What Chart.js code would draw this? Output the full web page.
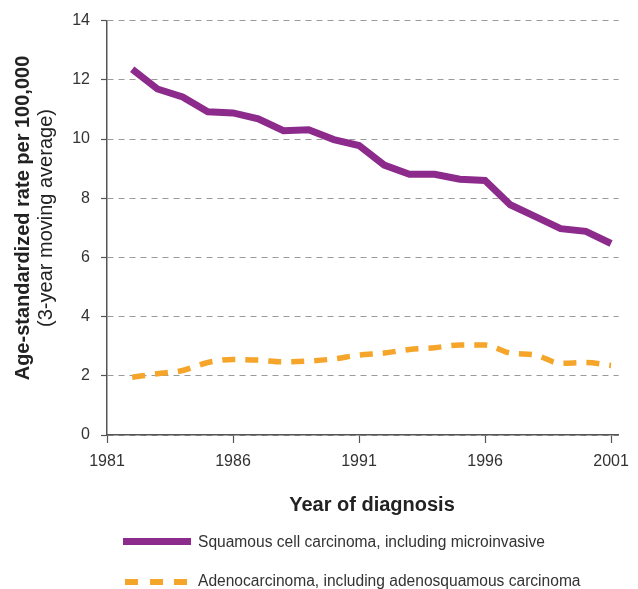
<!DOCTYPE html>
<html>
<head>
<meta charset="utf-8">
<script src="https://cdn.jsdelivr.net/npm/chart.js@4/dist/chart.umd.min.js"></script>
<style>
  html, body { margin: 0; padding: 0; background: #fff; }
  #wrap { position: relative; width: 638px; height: 589px; overflow: hidden; }
  #c { position: absolute; left: 0; top: 0; }
  .ov { position: absolute; white-space: nowrap; color: #222; }
  .rot { transform: translate(-50%, -50%) rotate(-90deg); }
</style>
</head>
<body>
<div id="wrap">
  <canvas id="c" width="638" height="589"></canvas>
  <div class="ov rot" style="left:22px; top:218px; font: bold 20px 'Liberation Sans', Arial, sans-serif;">Age-standardized rate per 100,000</div>
  <div class="ov rot" style="left:45px; top:218px; font: 20px 'Liberation Sans', Arial, sans-serif;">(3-year moving average)</div>
  <div class="ov" style="left:372px; top:504px; transform: translate(-50%, -50%); font: bold 20px 'Liberation Sans', Arial, sans-serif;">Year of diagnosis</div>
  <div id="legend"></div>
</div>
<script>
const years = [1982, 1983, 1984, 1985, 1986, 1987, 1988, 1989, 1990, 1991, 1992, 1993, 1994, 1995, 1996, 1997, 1998, 1999, 2000, 2001];
const squamous = [12.36, 11.69, 11.42, 10.92, 10.88, 10.68, 10.28, 10.31, 9.98, 9.78, 9.12, 8.81, 8.81, 8.64, 8.60, 7.78, 7.38, 6.97, 6.88, 6.47];
const adeno = [1.95, 2.07, 2.18, 2.45, 2.55, 2.53, 2.47, 2.50, 2.57, 2.70, 2.77, 2.89, 2.95, 3.04, 3.04, 2.77, 2.70, 2.42, 2.45, 2.35];
const xTickLabels = [1981, 1986, 1991, 1996, 2001];
const yTickLabels = [0, 2, 4, 6, 8, 10, 12, 14];
const seriesNames = ["Squamous cell carcinoma, including microinvasive", "Adenocarcinoma, including adenosquamous carcinoma"];

const PURPLE = "#8c2b8c";
const ORANGE = "#f5a52a";
const AXIS = "#555";
const FONT = "'Liberation Sans', Arial, sans-serif";

const toXY = (vals) => years.map((y, i) => ({ x: y, y: vals[i] }));

new Chart(document.getElementById('c'), {
  type: 'line',
  data: {
    datasets: [
      { label: seriesNames[0], data: toXY(squamous), borderColor: PURPLE, borderWidth: 7, pointRadius: 0, tension: 0, borderJoinStyle: 'miter', borderCapStyle: 'butt' },
      { label: seriesNames[1], data: toXY(adeno), borderColor: ORANGE, borderWidth: 5.5, pointRadius: 0, tension: 0.4, cubicInterpolationMode: 'monotone', borderDash: [13, 10], borderCapStyle: 'butt' }
    ]
  },
  options: {
    responsive: false,
    animation: false,
    events: [],
    layout: { padding: { left: 0, top: 17, right: 11, bottom: 0 } },
    plugins: { legend: { display: false }, tooltip: { enabled: false } },
    scales: {
      x: {
        type: 'linear', min: 1981, max: 2001.3,
        afterBuildTicks: (s) => { s.ticks = xTickLabels.map(v => ({ value: v })); },
        afterFit: (s) => { s.height = 154; },
        grid: { drawOnChartArea: false, tickLength: 8, tickColor: AXIS, tickWidth: 1.2 },
        border: { color: AXIS, width: 1.5 },
        ticks: { color: '#333', font: { family: FONT, size: 16 }, padding: 9, maxRotation: 0, callback: (v) => String(v) }
      },
      y: {
        min: 0, max: 14,
        afterBuildTicks: (s) => { s.ticks = yTickLabels.map(v => ({ value: v })); },
        afterFit: (s) => { s.width = 107; },
        grid: { color: '#9a9a9a', lineWidth: 1, tickLength: 6, tickColor: AXIS, tickBorderDash: [], tickWidth: 1.2 },
        border: { color: AXIS, width: 1.5, dash: [6, 5] },
        ticks: { color: '#333', font: { family: FONT, size: 16 }, padding: 11 }
      }
    }
  }
});

// HTML legend
const legend = document.getElementById('legend');
const texts = [];
function addText(txt, top) {
  const d = document.createElement('div');
  d.className = 'ov';
  d.style.cssText = 'left:198px; top:' + top + 'px; font: 16px ' + FONT + '; color:#333; transform-origin: 0 50%;';
  d.textContent = txt;
  legend.appendChild(d);
  texts.push(d);
}
function addBar(left, top, w, h, color) {
  const d = document.createElement('div');
  d.style.cssText = 'position:absolute; left:' + left + 'px; top:' + top + 'px; width:' + w + 'px; height:' + h + 'px; background:' + color + ';';
  legend.appendChild(d);
}
addBar(123, 538, 68, 7, PURPLE);
addText(seriesNames[0], 542);
addBar(125, 579, 13, 5.5, ORANGE);
addBar(150, 579, 13, 5.5, ORANGE);
addBar(174, 579, 13, 5.5, ORANGE);
addText(seriesNames[1], 581);
// condense legend text to match the narrow face of the original
const w0 = texts[0].getBoundingClientRect().width;
const k = 347 / w0;
texts.forEach(t => { t.style.transform = 'translateY(-50%) scaleX(' + k.toFixed(3) + ')'; });
</script>
</body>
</html>
